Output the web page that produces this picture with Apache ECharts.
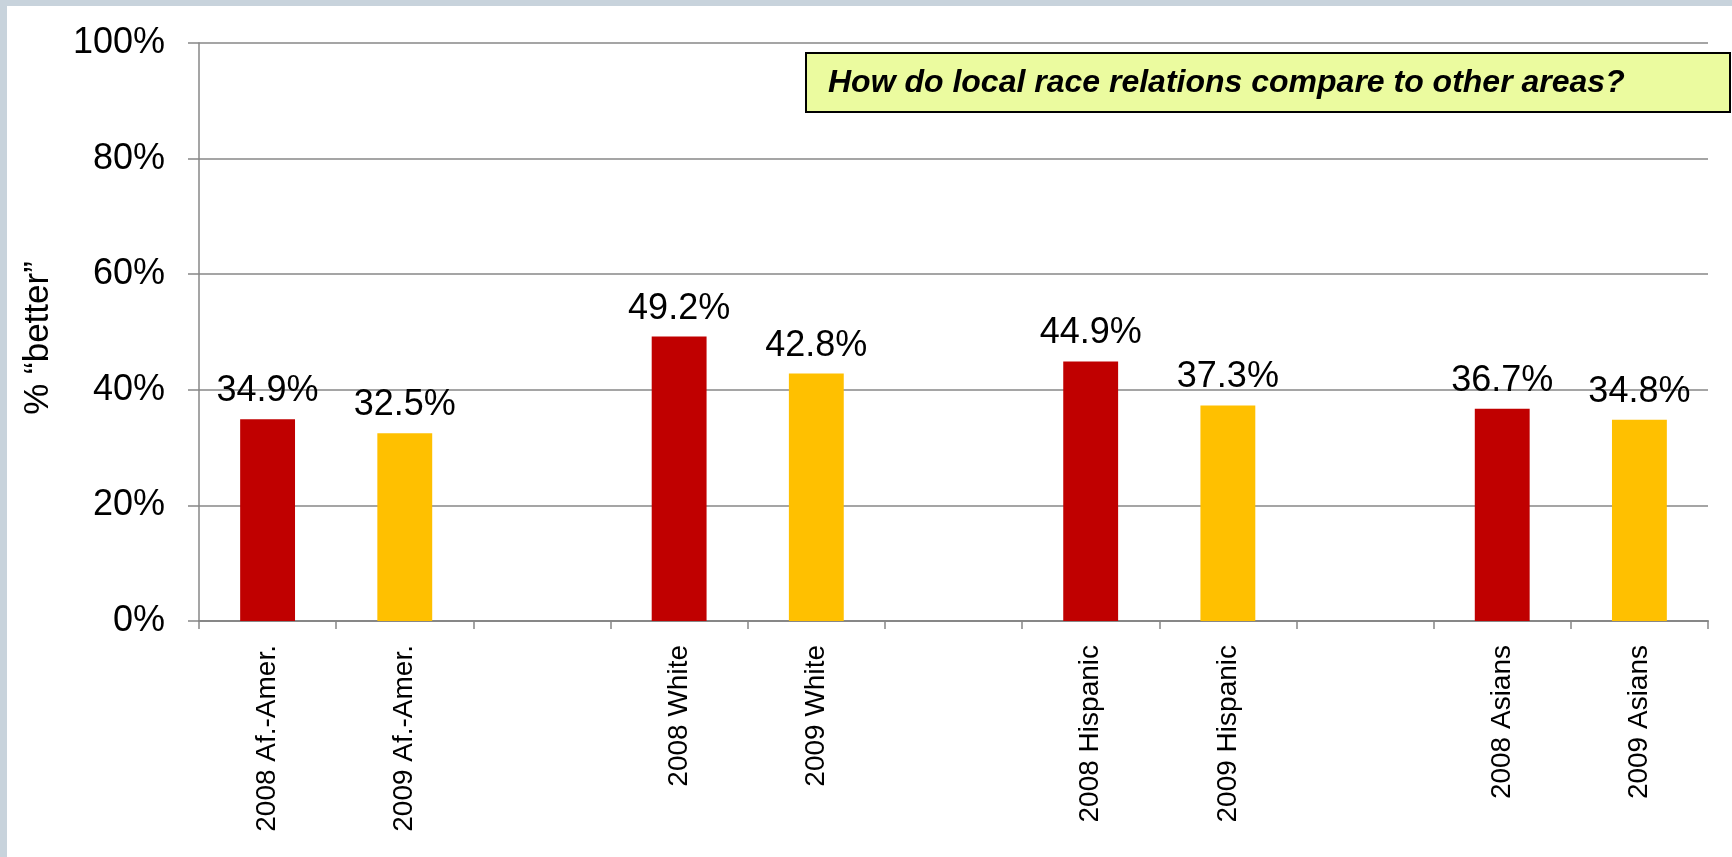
<!DOCTYPE html>
<html>
<head>
<meta charset="utf-8">
<title>Local race relations</title>
<script src="https://cdn.jsdelivr.net/npm/echarts@6/dist/echarts.min.js"></script>
<style>
  html, body { margin: 0; padding: 0; background: #fff; }
  #chart { width: 1732px; height: 857px; }
</style>
</head>
<body>
<div id="chart"></div>
<script>
// categories (empty strings are the gaps between groups)
const categories = [
  '2008 Af.-Amer.', '2009 Af.-Amer.', '',
  '2008 White', '2009 White', '',
  '2008 Hispanic', '2009 Hispanic', '',
  '2008 Asians', '2009 Asians'
];
// % "better", null for the gaps
const values = [34.9, 32.5, null, 49.2, 42.8, null, 44.9, 37.3, null, 36.7, 34.8];
const yTicks = [0, 20, 40, 60, 80, 100];
const question = 'How do local race relations compare to other areas?';

const FONT = '"Liberation Sans", Arial, Helvetica, sans-serif';
const RED = '#C00000';
const GOLD = '#FFC000';
const AXIS_GRAY = '#878787';

const chart = echarts.init(document.getElementById('chart'), null, { renderer: 'canvas' });

// bar colour follows the survey year
const barData = values.map((v, i) => {
  if (v === null) return '-';
  return {
    value: v,
    itemStyle: { color: categories[i].startsWith('2008') ? RED : GOLD }
  };
});

const option = {
  backgroundColor: '#ffffff',
  animation: false,
  grid: { left: 199, right: 24, top: 43, bottom: 236 },
  xAxis: {
    type: 'category',
    data: categories,
    boundaryGap: true,
    axisLine: { lineStyle: { color: AXIS_GRAY, width: 2 } },
    axisTick: { show: true, length: 8, interval: 0, lineStyle: { color: AXIS_GRAY, width: 1.5 } },
    axisLabel: {
      interval: 0,
      rotate: 90,
      margin: 24,
      color: '#000',
      fontFamily: FONT,
      fontSize: 28
    },
    splitLine: { show: false }
  },
  yAxis: {
    type: 'value',
    min: yTicks[0],
    max: yTicks[yTicks.length - 1],
    interval: yTicks[1] - yTicks[0],
    name: '% \u201cbetter\u201d',
    nameLocation: 'middle',
    nameGap: 143,
    nameTextStyle: { color: '#000', fontFamily: FONT, fontSize: 35, padding: [0, 12, 0, 0] },
    axisLine: { show: true, lineStyle: { color: AXIS_GRAY, width: 1.5 } },
    axisTick: { show: true, length: 11, lineStyle: { color: AXIS_GRAY, width: 1.5 } },
    axisLabel: {
      formatter: '{value}%',
      margin: 34,
      color: '#000',
      fontFamily: FONT,
      fontSize: 36
    },
    splitLine: { lineStyle: { color: AXIS_GRAY, width: 1.5 } }
  },
  series: [
    {
      type: 'bar',
      data: barData,
      barWidth: '40%',
      label: {
        show: true,
        position: 'top',
        distance: 10,
        formatter: p => p.value.toFixed(1) + '%',
        color: '#000',
        fontFamily: FONT,
        fontSize: 36
      }
    }
  ],
  graphic: [
    // slide border strips (top and left)
    { type: 'rect', left: 0, top: 0, shape: { width: 1732, height: 6 }, style: { fill: '#C8D3DC' }, z: 100 },
    { type: 'rect', left: 0, top: 0, shape: { width: 7, height: 857 }, style: { fill: '#C8D3DC' }, z: 100 },
    // question box
    {
      type: 'group',
      x: 806,
      y: 53,
      z: 100,
      children: [
        {
          type: 'rect',
          shape: { x: 0, y: 0, width: 924, height: 59 },
          style: { fill: '#EBFB9F', stroke: '#000', lineWidth: 2 }
        },
        {
          type: 'text',
          x: 22,
          y: 30,
          style: {
            text: question,
            fill: '#000',
            font: 'italic bold 32px ' + FONT,
            verticalAlign: 'middle'
          }
        }
      ]
    }
  ]
};

chart.setOption(option);
</script>
</body>
</html>
